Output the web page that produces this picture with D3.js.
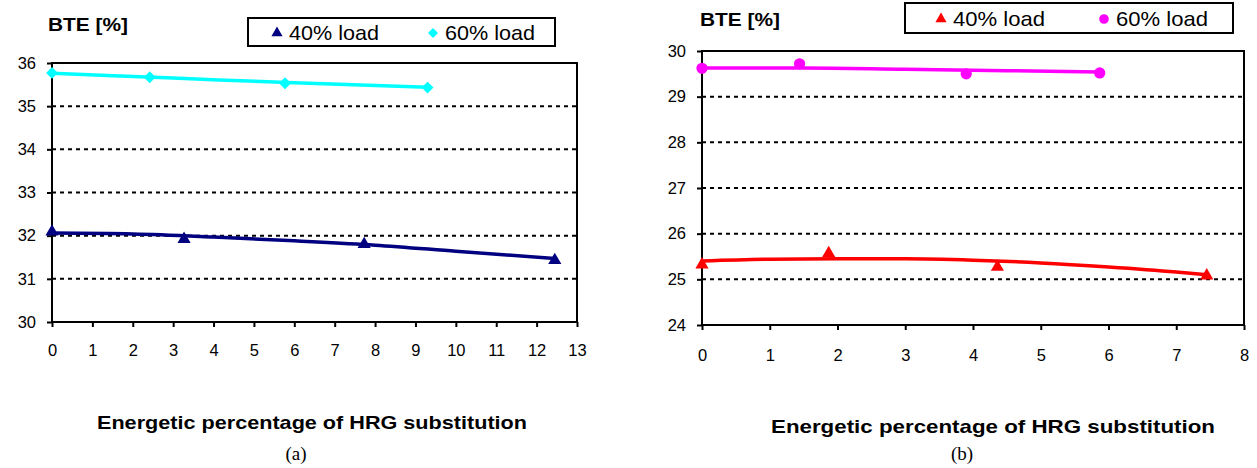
<!DOCTYPE html>
<html>
<head>
<meta charset="utf-8">
<script src="https://cdn.jsdelivr.net/npm/d3@7"></script>
<style>
  html, body { margin: 0; padding: 0; background: #fff; }
  svg { display: block; }
  .tick text { font-family: Arial, "Liberation Sans", sans-serif; font-size: 16.5px; fill: #000; }
</style>
</head>
<body>
<svg id="fig" width="1257" height="468"></svg>
<script>
// ---- Panel (a): BTE vs HRG substitution ----
const aX40 = [0, 3.27, 7.73, 12.45];
const aY40 = [32.09, 31.92, 31.80, 31.43];
const aX60 = [0, 2.42, 5.77, 9.30];
const aY60 = [35.77, 35.67, 35.53, 35.43];
// trend lines (a)
const aTrendX40 = [0, 2, 4, 6, 8, 10, 12.45];
const aTrendY40 = [32.06, 32.04, 31.97, 31.88, 31.78, 31.64, 31.47];
const aTrendX60 = [0, 3, 6, 9.30];
const aTrendY60 = [35.76, 35.65, 35.54, 35.44];
const aXTicks = [0, 1, 2, 3, 4, 5, 6, 7, 8, 9, 10, 11, 12, 13];
const aYTicks = [30, 31, 32, 33, 34, 35, 36];

// ---- Panel (b) ----
const bX40 = [0, 1.87, 4.36, 7.45];
const bY40 = [25.32, 25.57, 25.27, 25.08];
const bX60 = [0, 1.44, 3.90, 5.87];
const bY60 = [29.62, 29.72, 29.50, 29.52];
// trend lines (b)
const bTrendX40 = [0, 1, 2, 3, 4, 5, 6, 7, 7.45];
const bTrendY40 = [25.40, 25.44, 25.45, 25.45, 25.42, 25.36, 25.27, 25.16, 25.10];
const bTrendX60 = [0, 1.5, 3, 4.5, 5.87];
const bTrendY60 = [29.63, 29.63, 29.60, 29.57, 29.54];
const bXTicks = [0, 1, 2, 3, 4, 5, 6, 7, 8];
const bYTicks = [24, 25, 26, 27, 28, 29, 30];

const seriesNames = ["40% load", "60% load"];
const yTitle = "BTE [%]";
const xTitle = "Energetic percentage of HRG substitution";

const svg = d3.select("#fig");
const zip = (xs, ys) => xs.map((x, i) => ({x, y: ys[i]}));

const triPath = d3.symbol().type(d3.symbolTriangle).size(75)();
const diaPath = d3.symbol().type(d3.symbolSquare).size(70)();
const cirPath = d3.symbol().type(d3.symbolCircle).size(100)();

function panel(cfg) {
  const x = d3.scaleLinear().domain(cfg.xDomain).range([cfg.left, cfg.right]);
  const y = d3.scaleLinear().domain(cfg.yDomain).range([cfg.bottom, cfg.top]);
  const g = svg.append("g");

  // dashed grid lines
  g.append("g").selectAll("line")
    .data(cfg.yTicks.filter(v => v !== cfg.yDomain[0] && v !== cfg.yDomain[1]))
    .join("line")
    .attr("x1", cfg.left).attr("x2", cfg.right)
    .attr("y1", d => y(d)).attr("y2", d => y(d))
    .attr("stroke", "#000").attr("stroke-width", 2)
    .attr("stroke-dasharray", "4,4");

  // y axis
  g.append("g")
    .attr("transform", `translate(${cfg.left},0)`)
    .call(d3.axisLeft(y).tickValues(cfg.yTicks).tickFormat(d3.format("d"))
      .tickSize(5).tickSizeOuter(0).tickPadding(11))
    .call(s => s.select(".domain").remove())
    .call(s => s.selectAll(".tick line").attr("stroke", "#000").attr("stroke-width", 2));

  // x axis
  g.append("g")
    .attr("transform", `translate(0,${cfg.bottom})`)
    .call(d3.axisBottom(x).tickValues(cfg.xTicks).tickFormat(d3.format("d"))
      .tickSize(5).tickSizeOuter(0).tickPadding(cfg.xPad))
    .call(s => s.select(".domain").remove())
    .call(s => s.selectAll(".tick line").attr("stroke", "#000").attr("stroke-width", 2));

  // plot frame
  g.append("rect")
    .attr("x", cfg.left).attr("y", cfg.top)
    .attr("width", cfg.right - cfg.left).attr("height", cfg.bottom - cfg.top)
    .attr("fill", "none").attr("stroke", "#000").attr("stroke-width", 2);

  const line = d3.line().x(d => x(d.x)).y(d => y(d.y)).curve(d3.curveMonotoneX);

  cfg.series.forEach(s => {
    g.append("path")
      .datum(zip(s.tx, s.ty))
      .attr("d", line)
      .attr("fill", "none").attr("stroke", s.color).attr("stroke-width", 3.5);
    g.append("g").selectAll("path")
      .data(zip(s.xs, s.ys))
      .join("path")
      .attr("d", s.symbol)
      .attr("transform", d => `translate(${x(d.x)},${y(d.y)})${s.rotate ? " rotate(45)" : ""}`)
      .attr("fill", s.color);
  });

  // y title
  g.append("text")
    .attr("x", cfg.yTitleX).attr("y", cfg.yTitleY)
    .attr("font-family", "Arial, 'Liberation Sans', sans-serif")
    .attr("font-weight", "bold").attr("font-size", 18)
    .attr("textLength", 80).attr("lengthAdjust", "spacingAndGlyphs")
    .text(yTitle);

  // legend
  const L = cfg.legend;
  g.append("rect")
    .attr("x", L.x).attr("y", L.y).attr("width", L.w).attr("height", L.h)
    .attr("fill", "#fff").attr("stroke", "#000").attr("stroke-width", 2);
  cfg.series.forEach((s, i) => {
    const sx = L.symX[i], cy = L.y + L.h / 2;
    g.append("path").attr("d", s.symbol)
      .attr("transform", `translate(${sx},${cy + 1}) scale(0.85)${s.rotate ? " rotate(45)" : ""}`)
      .attr("fill", s.color);
    g.append("text")
      .attr("x", sx + 12).attr("y", cy + 8)
      .attr("font-family", "Arial, 'Liberation Sans', sans-serif")
      .attr("font-size", 21)
      .attr("textLength", L.textW).attr("lengthAdjust", "spacingAndGlyphs")
      .text(seriesNames[i]);
  });

  // x title and caption
  g.append("text")
    .attr("x", cfg.xTitleX).attr("y", cfg.xTitleY).attr("text-anchor", "middle")
    .attr("font-family", "Arial, 'Liberation Sans', sans-serif")
    .attr("font-weight", "bold").attr("font-size", 19)
    .attr("textLength", cfg.xTitleW).attr("lengthAdjust", "spacingAndGlyphs")
    .text(xTitle);
  g.append("text")
    .attr("x", cfg.capX).attr("y", 460).attr("text-anchor", "middle")
    .attr("font-family", "'Liberation Serif', 'Times New Roman', serif")
    .attr("font-size", 19)
    .text(cfg.caption);
}

panel({
  xDomain: [0, 13], yDomain: [30, 36],
  left: 52, right: 577, top: 63, bottom: 322,
  xTicks: aXTicks, yTicks: aYTicks, xPad: 17,
  yTitleX: 48, yTitleY: 31,
  legend: {x: 248, y: 18, w: 307, h: 28, symX: [277, 433], textW: 90},
  xTitleX: 312, xTitleY: 429, xTitleW: 430,
  capX: 296, caption: "(a)",
  series: [
    {xs: aX40, ys: aY40, tx: aTrendX40, ty: aTrendY40, color: "#000080", symbol: triPath},
    {xs: aX60, ys: aY60, tx: aTrendX60, ty: aTrendY60, color: "#00FFFF", symbol: diaPath, rotate: true}
  ]
});

panel({
  xDomain: [0, 8], yDomain: [24, 30],
  left: 702, right: 1244, top: 51, bottom: 325,
  xTicks: bXTicks, yTicks: bYTicks, xPad: 19,
  yTitleX: 700, yTitleY: 26,
  legend: {x: 905, y: 3, w: 328, h: 30, symX: [941, 1104], textW: 92},
  xTitleX: 993, xTitleY: 433, xTitleW: 444,
  capX: 962, caption: "(b)",
  series: [
    {xs: bX40, ys: bY40, tx: bTrendX40, ty: bTrendY40, color: "#FF0000", symbol: triPath},
    {xs: bX60, ys: bY60, tx: bTrendX60, ty: bTrendY60, color: "#FF00FF", symbol: cirPath}
  ]
});
</script>
</body>
</html>
